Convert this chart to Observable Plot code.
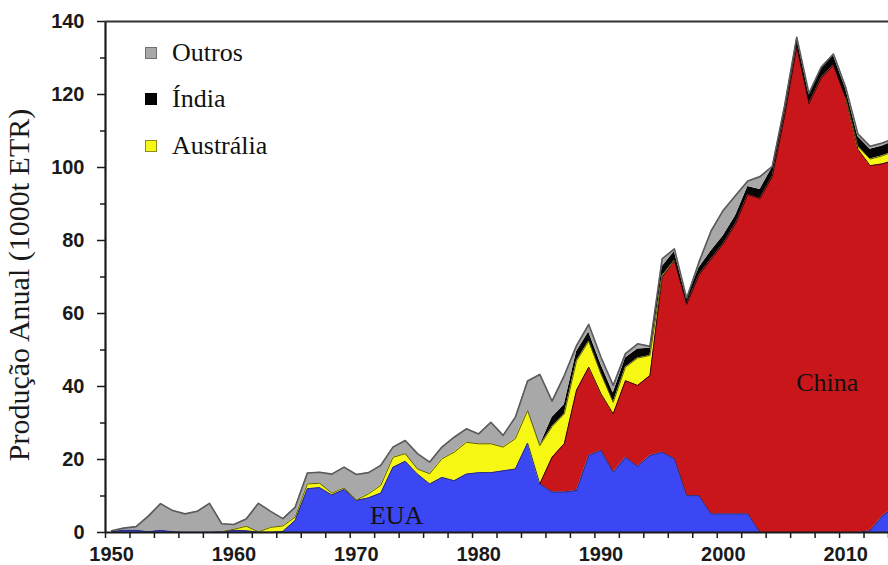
<!DOCTYPE html>
<html>
<head>
<meta charset="utf-8">
<script src="https://cdn.jsdelivr.net/npm/d3@7"></script>
<script src="https://cdn.jsdelivr.net/npm/@observablehq/plot@0.6"></script>
<style>
  body { margin: 0; background: #fff; }
  #wrap { position: relative; width: 888px; height: 565px; overflow: hidden; background: #fff; }
  .leg { position: absolute; left: 145px; height: 26px; line-height: 26px;
         font-family: "Liberation Serif", "Times New Roman", serif; font-size: 26px; color: #111; white-space: nowrap; }
  .leg .sq { position: absolute; left: 0; top: 7px; width: 12px; height: 12px; box-sizing: border-box; }
  .leg .tx { position: absolute; left: 27px; top: 0; }
  g[aria-label="y-axis tick label"], g[aria-label="x-axis tick label"] { font-weight: bold; }
</style>
</head>
<body>
<div id="wrap"></div>
<script>
// ---- data (thousand tonnes REO) ----
const years = d3.range(1950, 2015);
const series = ["EUA", "China", "Austrália", "Índia", "Outros"];

const eua = [
  0.2,0.6,0.6,0.2,0.6,0.2,0.1,0.1,0.1,0.2,
  0.6,0.5,0.1,0.1,0.3,3.3,12.0,12.3,10.3,11.8,
  8.8,9.5,10.8,17.9,19.5,16.0,13.3,15.1,14.2,16.0,
  16.4,16.4,16.9,17.4,24.5,13.3,11.1,11.1,11.5,21.1,
  22.5,16.5,20.6,18.1,21.1,22.0,20.2,10.1,10.1,5.1,
  5.1,5.1,5.1,0,0,0,0,0,0,0,
  0,0,0.5,4.5,7.0
];
const china = [
  0,0,0,0,0,0,0,0,0,0,
  0,0,0,0,0,0,0,0,0,0,
  0,0,0,0,0,0,0,0,0,0,
  0,0,0,0,0,0,9.5,13.2,27.5,24.2,
  15.5,16.0,21.0,22.2,21.9,48.0,54.3,52.4,60.4,69.8,
  74.0,79.5,87.5,91.5,97.5,114.0,133.0,117.5,124.5,128.0,
  119.0,105.0,100.0,96.5,95.0
];
const australia = [
  0,0,0,0,0,0,0,0,0,0,
  0.3,1.2,0.1,1.3,1.5,0.9,1.3,1.2,0.5,0.4,
  0.1,1.1,2.1,2.7,2.1,1.4,2.8,5.1,7.8,8.7,
  7.9,7.9,6.5,8.3,8.9,10.5,8.4,8.2,8.0,7.1,
  5.5,3.2,3.7,7.5,5.5,0.3,0,0,0,0,
  0,0,0,0,0,0,0,0,0,0,
  0,0.8,1.8,2.2,2.5
];
const india = [
  0,0,0,0,0,0,0,0,0,0,
  0,0,0,0,0,0,0,0,0,0,
  0,0,0,0,0,0,0,0,0,0,
  0,0,0,0,0,0,2.5,2.5,2.5,2.5,
  2.5,2.5,2.5,2.5,2.0,2.5,2.5,1.5,2.0,2.2,
  2.2,2.2,2.2,2.5,2.5,2.5,2.5,2.5,2.6,2.7,
  2.6,2.7,2.7,2.7,2.7
];
const outros = [
  0.3,0.6,1.0,4.3,7.3,5.8,5.0,5.7,7.9,2.2,
  1.3,2.0,7.8,4.4,2.0,2.7,3.0,3.0,5.2,5.7,
  7.0,5.8,5.5,2.8,3.6,4.2,3.2,3.2,4.1,3.7,
  2.7,5.9,3.2,5.9,8.1,19.5,4.5,8.0,1.7,2.1,
  2.0,2.1,1.2,1.4,0.5,2.2,0.7,0.2,1.5,5.5,
  7.0,5.5,1.5,3.5,0.3,0.3,0.2,0.3,0.4,0.4,
  0.4,0.7,0.8,0.8,0.8
];

const yTicks = [0, 20, 40, 60, 80, 100, 120, 140];
const yMinorTicks = [10, 30, 50, 70, 90, 110, 130];
const xTicks = [1950, 1960, 1970, 1980, 1990, 2000, 2010];
const xMinorTicks = d3.range(1949.5, 2014, 2);
const areaLabels = [
  {name: "EUA", year: 1973.3, value: 4.6},
  {name: "China", year: 2008.5, value: 41}
];
const legendItems = ["Outros", "Índia", "Austrália"];

const fills = {"EUA": "#3b47f2", "China": "#c9161b", "Austrália": "#f7f714", "Índia": "#050505", "Outros": "#a8a8a8"};
const edges = {"EUA": "#2c2c70", "China": "#3a0505", "Austrália": "#5c5c10", "Índia": "#000000", "Outros": "#5a5a5a"};
const legendBorder = {"Outros": "#707070", "Índia": "#000", "Austrália": "#8a8a20"};

// ---- tables built from the arrays ----
const values = {"EUA": eua, "China": china, "Austrália": australia, "Índia": india, "Outros": outros};
const long = series.flatMap(s => years.map((y, i) => ({series: s, year: y, value: values[s][i]})));
const rows = years.map((y, i) => Object.fromEntries([["year", y], ...series.map(s => [s, values[s][i]])]));
const stacked = d3.stack().keys(series)(rows);
const edgeData = stacked.flatMap((layer, k) => {
  const v = values[series[k]];
  return layer.map((p, i) => {
    const on = v[i] > 0 || (i > 0 && v[i - 1] > 0) || (i < v.length - 1 && v[i + 1] > 0);
    return {series: series[k], year: years[i], top: on ? p[1] : NaN};
  });
});

const serif = "'Liberation Serif', 'Times New Roman', serif";

const chart = Plot.plot({
  width: 888,
  height: 565,
  marginLeft: 105,
  marginRight: 0,
  marginTop: 21,
  marginBottom: 33,
  style: {fontFamily: "'Liberation Sans', Arial, sans-serif", background: "#fff", color: "#1a1a1a"},
  x: {domain: [1949.5, 2013.5]},
  y: {domain: [0, 140]},
  color: {type: "identity"},
  marks: [
    Plot.areaY(long, {x: "year", y: "value", z: "series", fill: d => fills[d.series], order: series, clip: true}),
    Plot.line(edgeData.filter(d => d.series !== "Outros" && d.series !== "Índia"),
      {x: "year", y: "top", z: "series", stroke: d => edges[d.series], strokeWidth: 1, clip: true}),
    Plot.line(edgeData.filter(d => d.series === "Outros"),
      {x: "year", y: "top", z: "series", stroke: d => edges[d.series], strokeWidth: 1.6, clip: true}),
    Plot.text(areaLabels, {x: "year", y: "value", text: "name", fontFamily: serif, fontSize: 26, fill: "#111"}),
    Plot.axisY(yMinorTicks, {tickSize: 5, tickFormat: () => "", label: null, strokeWidth: 1.5}),
    Plot.axisY(yTicks, {tickSize: 8, tickPadding: 13, tickFormat: "d", fontSize: 20, fontWeight: "bold", label: null, strokeWidth: 1.5}),
    Plot.axisX(xMinorTicks, {tickSize: 6, tickFormat: () => "", label: null, strokeWidth: 1.5}),
    Plot.axisX(xTicks, {tickSize: 0, tickPadding: 14, tickFormat: "d", fontSize: 20, fontWeight: "bold", label: null}),
    Plot.ruleX([1949.5], {strokeWidth: 2.2, stroke: "#1a1a1a"}),
    Plot.ruleY([0], {strokeWidth: 2.2, stroke: "#1a1a1a"}),
    Plot.ruleY([140], {strokeWidth: 2.2, stroke: "#333"}),
    Plot.text(["Produção Anual (1000t ETR)"], {frameAnchor: "left", textAnchor: "middle", rotate: -90, dx: -86, dy: 8,
      fontFamily: serif, fontSize: 30, fill: "#1a1a1a"})
  ]
});

const wrap = document.getElementById("wrap");
wrap.appendChild(chart);

// legend overlay (top-left inside the plot)
const legendTops = [40, 86, 133];
legendItems.forEach((name, i) => {
  const item = document.createElement("div");
  item.className = "leg";
  item.style.top = legendTops[i] + "px";
  const sq = document.createElement("span");
  sq.className = "sq";
  sq.style.background = fills[name];
  sq.style.border = "1px solid " + legendBorder[name];
  const tx = document.createElement("span");
  tx.className = "tx";
  tx.textContent = name;
  item.appendChild(sq);
  item.appendChild(tx);
  wrap.appendChild(item);
});
</script>
</body>
</html>
